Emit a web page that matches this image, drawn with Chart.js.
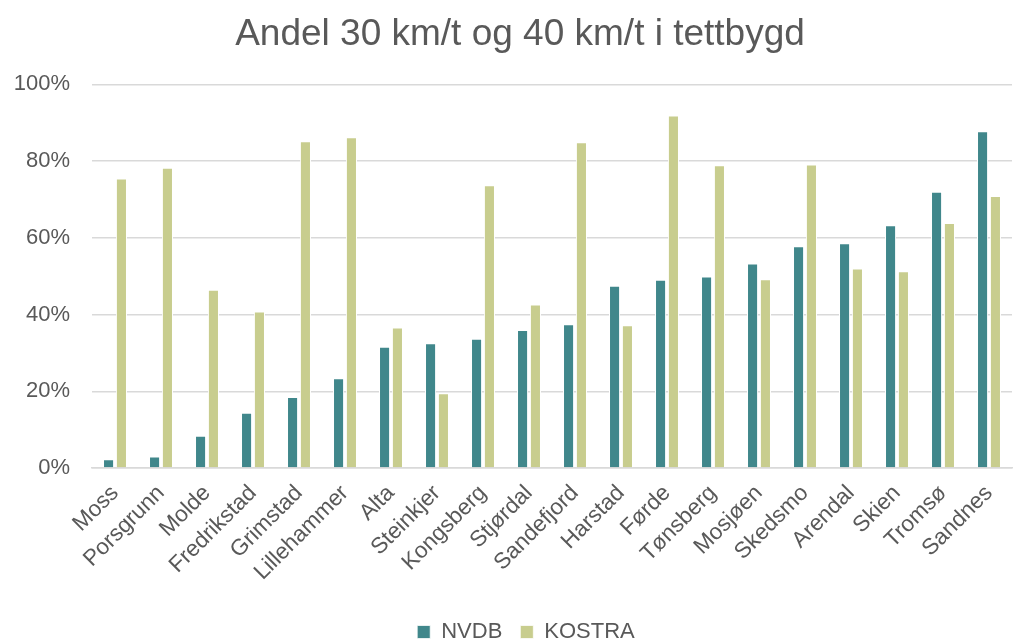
<!DOCTYPE html>
<html>
<head>
<meta charset="utf-8">
<script src="https://cdn.jsdelivr.net/npm/chart.js@4"></script>
<style>
html,body{margin:0;padding:0;background:#fff;}
#wrap{width:1013px;height:641px;}
</style>
</head>
<body>
<div id="wrap"><canvas id="c" width="1013" height="641"></canvas></div>
<script>
const categories = ["Moss","Porsgrunn","Molde","Fredrikstad","Grimstad","Lillehammer","Alta","Steinkjer","Kongsberg","Stjørdal","Sandefjord","Harstad","Førde","Tønsberg","Mosjøen","Skedsmo","Arendal","Skien","Tromsø","Sandnes"];
const nvdb   = [2.3, 3.0, 8.4, 14.4, 18.5, 23.4, 31.6, 32.5, 33.7, 36.0, 37.5, 47.5, 49.1, 49.9, 53.3, 57.8, 58.6, 63.3, 72.0, 87.8];
const kostra = [75.5, 78.3, 46.5, 40.8, 85.2, 86.2, 36.6, 19.5, 73.7, 42.6, 84.9, 37.2, 91.9, 78.9, 49.2, 79.1, 52.0, 51.3, 63.9, 70.9];
const yTicks = [0, 20, 40, 60, 80, 100];

const FONT = "'Liberation Sans', Arial, sans-serif";
const TXT = "#595959";

const shiftBlocks = {
  id: 'shiftBlocks',
  afterLayout(chart) {
    const t = chart.titleBlock;
    if (t) { t.left += 14; t.right += 14; }
    const l = chart.legend;
    if (l) { l.left += 20; l.right += 20; }
  }
};

new Chart(document.getElementById('c'), {
  type: 'bar',
  data: {
    labels: categories,
    datasets: [
      {label: 'NVDB', data: nvdb, backgroundColor: '#40878B', borderColor: '#ffffff', borderWidth: {top:1,left:1,right:1,bottom:0}, categoryPercentage: 0.56, barPercentage: 0.86},
      {label: 'KOSTRA', data: kostra, backgroundColor: '#C8CD8E', borderColor: '#ffffff', borderWidth: {top:1,left:1,right:1,bottom:0}, categoryPercentage: 0.56, barPercentage: 0.86}
    ]
  },
  plugins: [shiftBlocks],
  options: {
    responsive: false,
    animation: false,
    devicePixelRatio: 1,
    layout: {padding: {left: 0, right: 1, top: 0, bottom: -12}},
    plugins: {
      title: {
        display: true,
        text: 'Andel 30 km/t og 40 km/t i tettbygd',
        color: TXT,
        font: {family: FONT, size: 37, weight: 'normal'},
        padding: {top: 13, bottom: 27}
      },
      legend: {
        position: 'bottom',
        labels: {
          color: TXT,
          font: {family: FONT, size: 22},
          boxWidth: 13, boxHeight: 13,
          padding: 18
        }
      },
      tooltip: {enabled: false}
    },
    scales: {
      x: {
        grid: {display: false, drawBorder: false},
        border: {display: true, color: '#D9D9D9', width: 1.5},
        afterFit: (axis) => { axis.height = 135; },
        ticks: {
          color: TXT,
          font: {family: FONT, size: 22.5},
          maxRotation: 45, minRotation: 45,
          autoSkip: false,
          padding: 4
        }
      },
      y: {
        min: 0, max: 100,
        afterBuildTicks: (axis) => { axis.ticks = yTicks.map(v => ({value: v})); },
        afterFit: (axis) => { axis.width = 92; },
        grid: {color: '#D9D9D9', lineWidth: 1.5, drawTicks: false},
        border: {display: false},
        ticks: {
          color: TXT,
          font: {family: FONT, size: 22},
          padding: 22,
          callback: (v) => v + '%'
        }
      }
    }
  }
});
</script>
</body>
</html>
